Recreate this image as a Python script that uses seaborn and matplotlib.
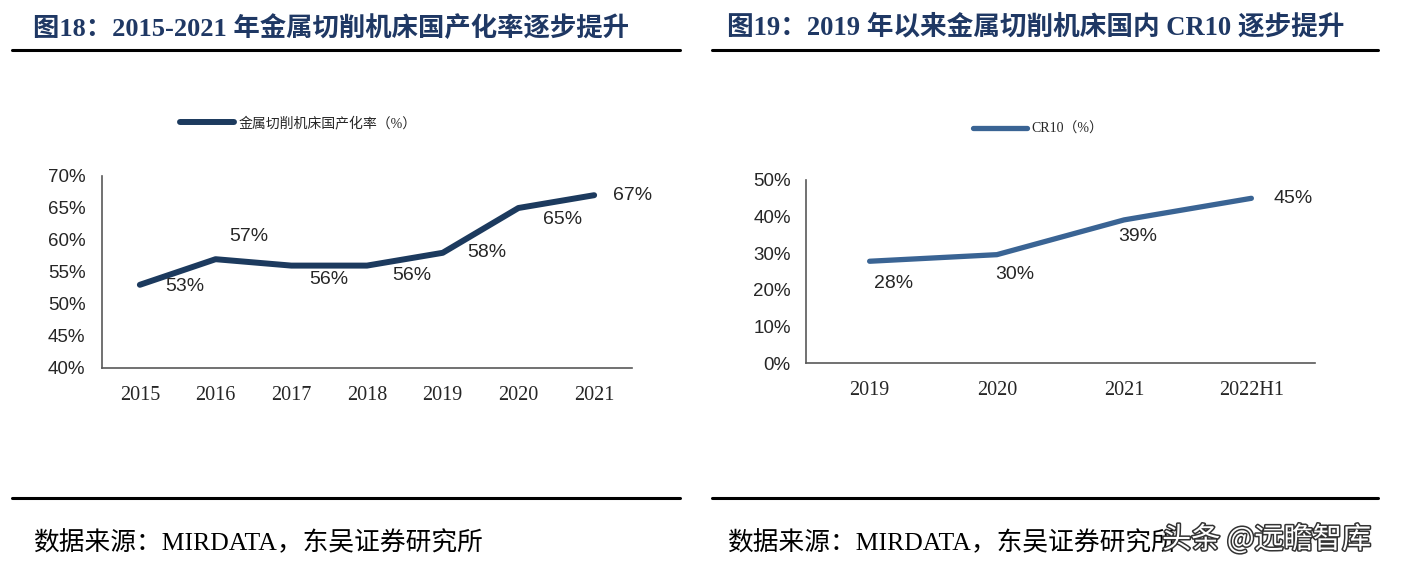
import pandas as pd
import matplotlib.pyplot as plt
import seaborn as sns
from matplotlib.lines import Line2D
from matplotlib.ticker import FixedLocator
import matplotlib.patheffects as pe

# 数据
years_a = ['2015', '2016', '2017', '2018', '2019', '2020', '2021']
rate_a = [53, 57, 56, 56, 58, 65, 67]
years_b = ['2019', '2020', '2021', '2022H1']
cr10_b = [27.8, 29.6, 39.1, 45.0]

title_a = '图18：2015-2021 年金属切削机床国产化率逐步提升'
title_b = '图19：2019 年以来金属切削机床国内 CR10 逐步提升'
legend_a = '金属切削机床国产化率（%）'
legend_b = 'CR10（%）'
source = '数据来源：MIRDATA，东吴证券研究所'

sns.set_style('white')
plt.rcParams['font.family'] = ['Liberation Sans', 'Noto Sans CJK SC']
mix = ['Liberation Serif', 'Noto Sans CJK SC']

W, H = 1411, 568
fig = plt.figure(figsize=(W / 100, H / 100), dpi=100)


def fx(px):
    return px / W


def fy(py):
    return 1 - py / H


def draw_panel(rect, cats, vals, color, lw, ylim, ystep, offsets, leg_text, leg_xy, ypad):
    ax = fig.add_axes(rect)
    df = pd.DataFrame({'x': cats, 'y': vals})
    sns.lineplot(data=df, x='x', y='y', ax=ax, color=color, linewidth=lw,
                 label=leg_text, solid_capstyle='round', solid_joinstyle='round')
    n = len(cats)
    ax.set_xlim(-0.5, n - 0.5)
    ax.set_ylim(*ylim)
    ax.set_yticks(range(ylim[0], ylim[1] + 1, ystep))
    ax.set_yticklabels([f'{v}%' for v in range(ylim[0], ylim[1] + 1, ystep)], fontsize=13.5)
    ax.set_xticks(range(n))
    ax.set_xticklabels(cats, fontsize=14.5, family=mix)
    ax.xaxis.set_minor_locator(FixedLocator([i + 0.5 for i in range(n)]))
    ax.tick_params(axis='x', which='major', length=0, pad=13)
    ax.tick_params(axis='x', which='minor', direction='in', length=5, width=1.2, color='#595959')
    ax.tick_params(axis='y', direction='in', length=5, width=1.2, color='#595959', pad=ypad)
    ax.set_xlabel('')
    ax.set_ylabel('')
    for s in ['top', 'right']:
        ax.spines[s].set_visible(False)
    for s in ['left', 'bottom']:
        ax.spines[s].set_color('#595959')
        ax.spines[s].set_linewidth(1.2)
    for i, v in enumerate(vals):
        ax.annotate(f'{v:.0f}%', (i, v), xytext=offsets[i], textcoords='offset points',
                    ha='center', va='center', fontsize=14, color='#262626')
    ax.legend(loc='center', bbox_to_anchor=leg_xy, bbox_transform=fig.transFigure,
              frameon=False, handlelength=3.9, handletextpad=0.3,
              prop={'family': mix, 'size': 10})
    return ax


draw_panel([fx(102), fy(368), fx(632) - fx(102), fy(176) - fy(368)],
           years_a, rate_a, '#1C3A5E', 4.3, (40, 70), 5,
           [(32, -1), (24, 16), (27, -10), (32, -7), (32, 0), (32, -8), (28, 0)],
           legend_a, (fx(298), fy(123)), 12)

draw_panel([fx(806), fy(363), fx(1315) - fx(806), fy(180) - fy(363)],
           years_b, cr10_b, '#3A6494', 3.8, (0, 50), 10,
           [(17, -16), (13, -14), (10, -12), (30, 0)],
           legend_b, (fx(1038), fy(129)), 11)

# 标题、横线、来源
for x0, x1, tx, txt, fs in [(12, 680, 33, title_a, 19), (712, 1378, 727, title_b, 19.2)]:
    fig.text(fx(tx), fy(28), txt, ha='left', va='center',
             fontsize=fs, fontweight='bold', color='#1F3864', family=mix)
    fig.add_artist(Line2D([fx(x0), fx(x1)], [fy(50), fy(50)], color='black', lw=2.2))
    fig.add_artist(Line2D([fx(x0), fx(x1)], [fy(498), fy(498)], color='black', lw=2.2))
    fig.text(fx(tx), fy(543), source, ha='left', va='center',
             fontsize=18.5, color='black', family=mix)

# 水印
wm = fig.text(fx(1162), fy(540), '头条 @远瞻智库', ha='left', va='center', fontsize=21,
              color='white', family=['Noto Sans CJK SC', 'DejaVu Sans'])
wm.set_path_effects([pe.withStroke(linewidth=2.2, foreground='#333333')])

fig.savefig('out.png', dpi=100)
